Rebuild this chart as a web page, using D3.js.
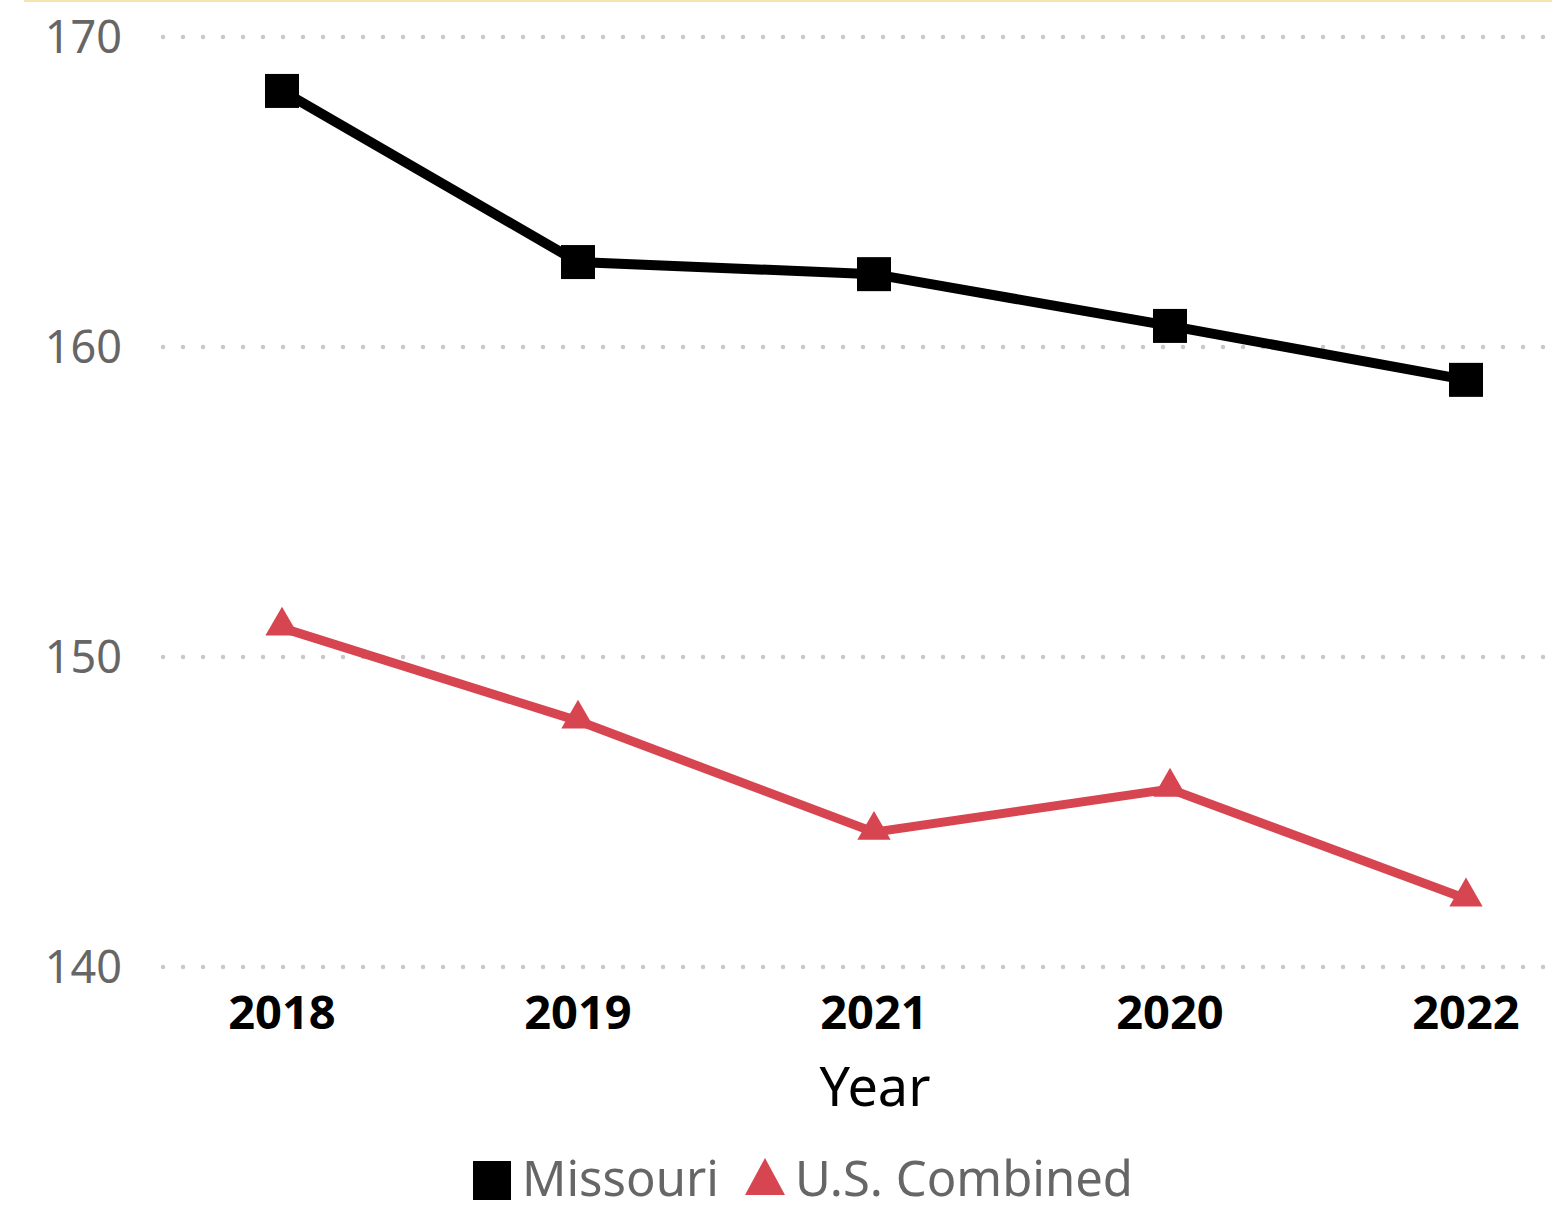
<!DOCTYPE html>
<html>
<head>
<meta charset="utf-8">
<script src="https://cdn.jsdelivr.net/npm/d3@7"></script>
<style>
  body { margin: 0; background: #fff; }
  svg text { font-family: "Segoe UI", "Noto Sans", "Open Sans", sans-serif; }
</style>
</head>
<body>
<svg id="chart" width="1552" height="1209"></svg>
<script>
var years = ["2018", "2019", "2021", "2020", "2022"];
var missouri = [168.26, 162.74, 162.35, 160.68, 158.94];
var usCombined = [150.94, 147.94, 144.35, 145.74, 142.2];
var yTicks = [140, 150, 160, 170];
var seriesNames = ["Missouri", "U.S. Combined"];

var width = 1552
  , height = 1209
  , margin = {top: 37, right: 86, bottom: 242, left: 282};

var svg = d3.select("#chart");

// thin frame line at the very top
svg.append("line")
    .attr("x1", 24).attr("x2", width)
    .attr("y1", 1).attr("y2", 1)
    .attr("stroke", "#f4e6b0")
    .attr("stroke-width", 2);

var x = d3.scalePoint()
    .domain(years)
    .range([margin.left, width - margin.right]);

var y = d3.scaleLinear()
    .domain([140, 170])
    .range([height - margin.bottom, margin.top]);

// dotted gridlines
svg.append("g")
    .selectAll("line")
    .data(yTicks)
    .join("line")
    .attr("x1", 163).attr("x2", width)
    .attr("y1", function(d){ return y(d); })
    .attr("y2", function(d){ return y(d); })
    .attr("stroke", "#c8c8c8")
    .attr("stroke-width", 4.5)
    .attr("stroke-linecap", "round")
    .attr("stroke-dasharray", "0,20");

// y labels
svg.append("g")
    .selectAll("text")
    .data(yTicks)
    .join("text")
    .attr("x", 122)
    .attr("y", function(d){ return y(d) + 16; })
    .attr("text-anchor", "end")
    .attr("fill", "#666666")
    .style("font-size", "45px")
    .text(function(d){ return d; });

// x labels
svg.append("g")
    .selectAll("text")
    .data(years)
    .join("text")
    .attr("x", function(d){ return x(d); })
    .attr("y", 1029)
    .attr("text-anchor", "middle")
    .attr("fill", "#000")
    .style("font-size", "47px")
    .style("font-weight", "bold")
    .text(function(d){ return d; });

svg.append("text")
    .attr("x", 875)
    .attr("y", 1106)
    .attr("text-anchor", "middle")
    .attr("fill", "#000")
    .style("font-size", "54px")
    .text("Year");

var line = d3.line()
    .x(function(d, i){ return x(years[i]); })
    .y(function(d){ return y(d); });

// U.S. combined
svg.append("path")
    .datum(usCombined)
    .attr("d", line)
    .attr("fill", "none")
    .attr("stroke", "#d64550")
    .attr("stroke-width", 9);

var tri = d3.symbol().type(d3.symbolTriangle).size(480);
svg.append("g")
    .selectAll("path")
    .data(usCombined)
    .join("path")
    .attr("d", tri)
    .attr("transform", function(d, i){ return "translate(" + x(years[i]) + "," + (y(d) - 2) + ")"; })
    .attr("fill", "#d64550");

// Missouri
svg.append("path")
    .datum(missouri)
    .attr("d", line)
    .attr("fill", "none")
    .attr("stroke", "#000")
    .attr("stroke-width", 10);

svg.append("g")
    .selectAll("rect")
    .data(missouri)
    .join("rect")
    .attr("x", function(d, i){ return x(years[i]) - 17; })
    .attr("y", function(d){ return y(d) - 17; })
    .attr("width", 34)
    .attr("height", 34)
    .attr("fill", "#000");

// legend
var legend = svg.append("g");
legend.append("rect")
    .attr("x", 473).attr("y", 1161)
    .attr("width", 38).attr("height", 39)
    .attr("fill", "#000");
legend.append("text")
    .attr("x", 522).attr("y", 1196)
    .attr("fill", "#666666")
    .style("font-size", "49px")
    .text(seriesNames[0]);
legend.append("path")
    .attr("d", "M765,1158L785,1195L745,1195Z")
    .attr("fill", "#d64550");
legend.append("text")
    .attr("x", 795).attr("y", 1196)
    .attr("fill", "#666666")
    .style("font-size", "49px")
    .text(seriesNames[1]);
</script>
</body>
</html>
